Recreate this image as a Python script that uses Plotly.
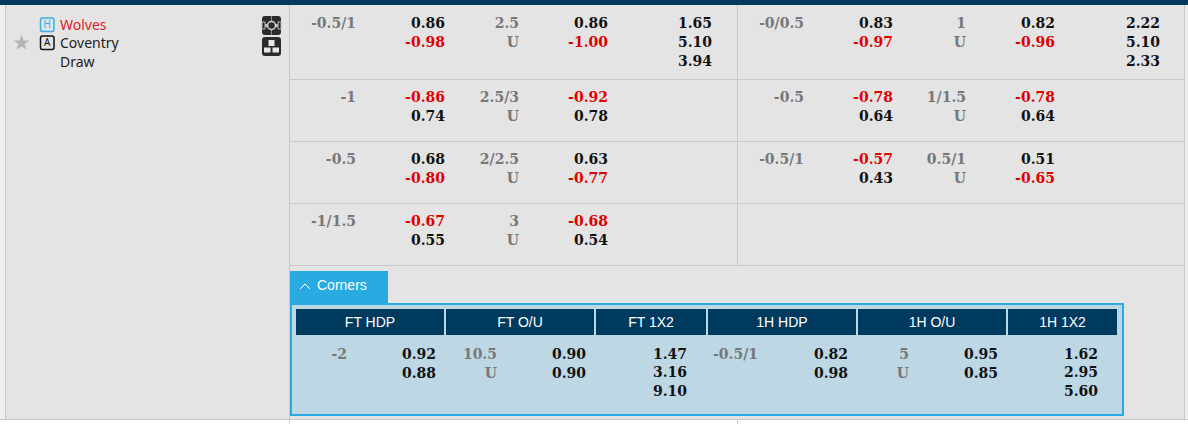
import plotly.graph_objects as go

# team block
team_names = ['Wolves', 'Coventry', 'Draw']
team_colors = ['#e0202a', '#222222', '#222222']

# full time rows
ft_hdp_lines = ['-0.5/1', '-1', '-0.5', '-1/1.5']
ft_hdp_home = ['0.86', '-0.86', '0.68', '-0.67']
ft_hdp_away = ['-0.98', '0.74', '-0.80', '0.55']
ft_ou_lines = ['2.5', '2.5/3', '2/2.5', '3']
ft_ou_over = ['0.86', '-0.92', '0.63', '-0.68']
ft_ou_under = ['-1.00', '0.78', '-0.77', '0.54']
ft_1x2 = ['1.65', '5.10', '3.94']

# first half rows
h1_hdp_lines = ['-0/0.5', '-0.5', '-0.5/1']
h1_hdp_home = ['0.83', '-0.78', '-0.57']
h1_hdp_away = ['-0.97', '0.64', '0.43']
h1_ou_lines = ['1', '1/1.5', '0.5/1']
h1_ou_over = ['0.82', '-0.78', '0.51']
h1_ou_under = ['-0.96', '0.64', '-0.65']
h1_1x2 = ['2.22', '5.10', '2.33']

# corners panel
corner_headers = ['FT HDP', 'FT O/U', 'FT 1X2', '1H HDP', '1H O/U', '1H 1X2']
corner_ft_hdp = ['-2', '0.92', '0.88']
corner_ft_ou = ['10.5', '0.90', '0.90']
corner_ft_1x2 = ['1.47', '3.16', '9.10']
corner_h1_hdp = ['-0.5/1', '0.82', '0.98']
corner_h1_ou = ['5', '0.95', '0.85']
corner_h1_1x2 = ['1.62', '2.95', '5.60']

NAVY = '#003a5f'
BLUE = '#29abe2'
GREY = '#777777'
RED = '#e00000'
LINE = '#c8c8c8'
DARK = '#2b2b2b'
NUM_FONT = 'DejaVu Serif'
UI_FONT = 'Noto Sans'
HEAD_FONT = 'Liberation Sans'

row_y = [24, 98, 160, 222]
line_gap = 19

xs, ys, labels, colors = [], [], [], []


def put(x, y, text, color):
    xs.append(x)
    ys.append(y)
    labels.append(text)
    colors.append(color)


def odds_color(text):
    return RED if text.startswith('-') else '#111111'


def add_block(hdp_x, hdp_lines, home, away, ou_x, ou_lines, over, under, odds1_x, odds2_x, odds3_x, x12):
    for i in range(len(hdp_lines)):
        y = row_y[i]
        put(hdp_x, y, hdp_lines[i], GREY)
        put(odds1_x, y, home[i], odds_color(home[i]))
        put(odds1_x, y + line_gap, away[i], odds_color(away[i]))
        put(ou_x, y, ou_lines[i], GREY)
        put(ou_x, y + line_gap, 'U', GREY)
        put(odds2_x, y, over[i], odds_color(over[i]))
        put(odds2_x, y + line_gap, under[i], odds_color(under[i]))
    for i in range(len(x12)):
        put(odds3_x, row_y[0] + i * line_gap, x12[i], '#111111')


add_block(356, ft_hdp_lines, ft_hdp_home, ft_hdp_away, 519, ft_ou_lines, ft_ou_over, ft_ou_under, 445, 608, 712, ft_1x2)
add_block(804, h1_hdp_lines, h1_hdp_home, h1_hdp_away, 966, h1_ou_lines, h1_ou_over, h1_ou_under, 893, 1055, 1160, h1_1x2)


def add_corner(col_x, odds_x, vals, ou=False):
    put(col_x, 355, vals[0], GREY)
    if ou:
        put(col_x, 374, 'U', GREY)
    put(odds_x, 355, vals[1], '#111111')
    put(odds_x, 374, vals[2], '#111111')


add_corner(347, 436, corner_ft_hdp)
add_corner(497, 586, corner_ft_ou, ou=True)
add_corner(758, 848, corner_h1_hdp)
add_corner(909, 998, corner_h1_ou, ou=True)
for i in range(3):
    put(687, 355 + i * 18.5, corner_ft_1x2[i], '#111111')
    put(1098, 355 + i * 18.5, corner_h1_1x2[i], '#111111')


def round_rect(x0, y0, x1, y1, r, fill, line=None):
    path = (f'M {x0 + r} {y0} L {x1 - r} {y0} Q {x1} {y0} {x1} {y0 + r} '
            f'L {x1} {y1 - r} Q {x1} {y1} {x1 - r} {y1} '
            f'L {x0 + r} {y1} Q {x0} {y1} {x0} {y1 - r} '
            f'L {x0} {y0 + r} Q {x0} {y0} {x0 + r} {y0} Z')
    return dict(type='path', path=path, fillcolor=fill,
                line=dict(color=line, width=1.5) if line else dict(width=0))


fig = go.Figure()

# page background and rules
shapes = [
    dict(type='rect', x0=0, x1=1188, y0=0, y1=424, fillcolor='#ffffff', line_width=0),
    dict(type='rect', x0=0, x1=1188, y0=5, y1=419, fillcolor='#eeeeee', line_width=0),
    dict(type='rect', x0=6, x1=1184, y0=5, y1=419, fillcolor='#e4e4e4', line_width=0),
    dict(type='rect', x0=0, x1=1188, y0=0, y1=5, fillcolor=NAVY, line_width=0),
]
for x in [5.5, 289.5, 1184.5]:
    shapes.append(dict(type='line', x0=x, x1=x, y0=5, y1=419, line=dict(color=LINE, width=1)))
shapes.append(dict(type='line', x0=737.5, x1=737.5, y0=5, y1=265, line=dict(color=LINE, width=1)))
for y in [79.5, 141.5, 203.5, 265.5]:
    shapes.append(dict(type='line', x0=289, x1=1184, y0=y, y1=y, line=dict(color=LINE, width=1)))
shapes.append(dict(type='line', x0=0, x1=1188, y0=419.5, y1=419.5, line=dict(color=LINE, width=1)))
for x in [289.5, 737.5]:
    shapes.append(dict(type='line', x0=x, x1=x, y0=420, y1=424, line=dict(color=LINE, width=1)))

# corners panel
shapes.append(dict(type='rect', x0=290, x1=388, y0=271, y1=304, fillcolor=BLUE, line_width=0))
shapes.append(dict(type='rect', x0=291, x1=1123, y0=304, y1=415, fillcolor='#bdd7e4', line=dict(color=BLUE, width=2)))
head_edges = [(296, 444), (446, 594), (596, 706), (708, 856), (858, 1006), (1008, 1117)]
for x0, x1 in head_edges:
    shapes.append(dict(type='rect', x0=x0, x1=x1, y0=309, y1=335, fillcolor=NAVY, line_width=0))
shapes.append(dict(type='path', path='M 300 289 L 305 284 L 310 289', line=dict(color='#ffffff', width=1)))

# H / A badges
shapes.append(round_rect(40.5, 18, 54, 31.5, 2, '#d4e8f2', '#45a8dc'))
shapes.append(round_rect(40.5, 36, 54, 49.5, 2, '#e4e4e4', '#111111'))

# side icons
shapes.append(round_rect(262, 16, 281, 35, 3, DARK))
shapes.append(round_rect(262, 37, 281, 56, 3, DARK))
shapes.append(dict(type='rect', x0=262, x1=281, y0=24, y1=27, fillcolor='#b8b8b8', line_width=0))
shapes.append(dict(type='line', x0=271.5, x1=271.5, y0=16, y1=35, line=dict(color='#8a8a8a', width=1)))
shapes.append(dict(type='circle', x0=267.5, x1=275.5, y0=21.5, y1=29.5, fillcolor=DARK, line=dict(color='#d8d8d8', width=1.5)))
for x0, x1 in [(262, 265), (278, 281)]:
    shapes.append(dict(type='rect', x0=x0, x1=x1, y0=22, y1=29, fillcolor=DARK, line=dict(color='#b8b8b8', width=1)))
shapes.append(dict(type='rect', x0=268.5, x1=274.5, y0=40, y1=46, fillcolor='#e8e8e8', line_width=0))
shapes.append(dict(type='rect', x0=264, x1=270.5, y0=47.5, y1=52.5, fillcolor='#e8e8e8', line_width=0))
shapes.append(dict(type='rect', x0=272.5, x1=279, y0=47.5, y1=52.5, fillcolor='#e8e8e8', line_width=0))

# numbers
fig.add_trace(go.Scatter(
    x=xs, y=ys, text=labels, mode='text', textposition='middle left',
    textfont=dict(family=NUM_FONT, size=14, color=colors, weight='bold'),
    hoverinfo='skip', showlegend=False,
))

# team names
fig.add_trace(go.Scatter(
    x=[60, 60, 60], y=[26, 44, 63], text=team_names, mode='text', textposition='middle right',
    textfont=dict(family=UI_FONT, size=14, color=team_colors),
    hoverinfo='skip', showlegend=False,
))
fig.add_trace(go.Scatter(
    x=[47.2, 47.2], y=[25, 43.5], text=['H', 'A'], mode='text', textposition='middle center',
    textfont=dict(family=UI_FONT, size=10, color=['#45a8dc', '#111111']),
    hoverinfo='skip', showlegend=False,
))
fig.add_trace(go.Scatter(
    x=[21.5], y=[43], mode='markers',
    marker=dict(symbol='star', size=12, color='#b4b4b4'),
    hoverinfo='skip', showlegend=False,
))

# corners titles
fig.add_trace(go.Scatter(
    x=[(a + b) / 2 for a, b in head_edges], y=[323] * 6, text=corner_headers,
    mode='text', textposition='middle center',
    textfont=dict(family=HEAD_FONT, size=14, color='#ffffff'),
    hoverinfo='skip', showlegend=False,
))
fig.add_trace(go.Scatter(
    x=[317], y=[286], text=['Corners'], mode='text', textposition='middle right',
    textfont=dict(family=HEAD_FONT, size=14, color='#ffffff'),
    hoverinfo='skip', showlegend=False,
))

fig.update_layout(
    width=1188, height=424, margin=dict(l=0, r=0, t=0, b=0),
    paper_bgcolor='#ffffff', plot_bgcolor='#ffffff', shapes=shapes,
    xaxis=dict(range=[0, 1188], visible=False, fixedrange=True),
    yaxis=dict(range=[424, 0], visible=False, fixedrange=True),
    showlegend=False,
)
for s in fig.layout.shapes:
    s.layer = 'below'

# the page's default body margin would push the chart 8px in
fig.write_html("out.html", config={'displayModeBar': False},
               post_script="document.body.style.margin='0';")
